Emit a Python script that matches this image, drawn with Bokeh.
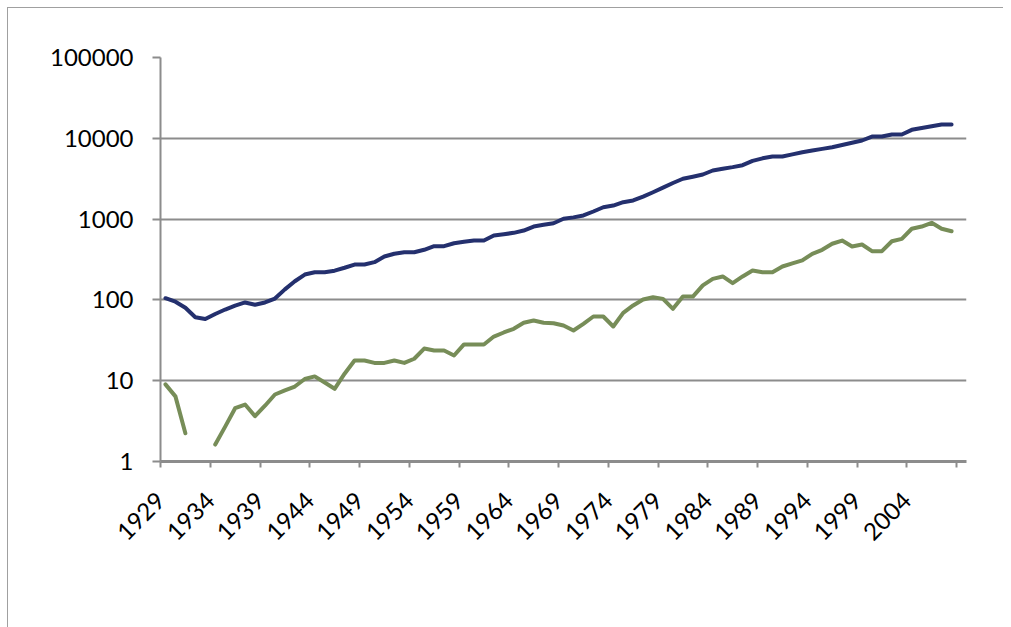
import numpy as np
import math
from bokeh.plotting import figure
from bokeh.models import (FixedTicker, NumeralTickFormatter, Range1d, Legend,
                          LegendItem, ColumnDataSource)
from bokeh.embed import file_html
from bokeh.resources import INLINE

# ---------------- data ----------------
years = list(range(1929, 2009))

gross_domestic_income = [
    105, 95, 80, 61, 58, 67, 76, 85, 93, 87,            # 1929-1938
    93, 104, 135, 170, 206, 220, 220, 230, 250, 274,     # 1939-1948
    274, 293, 344, 372, 389, 389, 417, 462, 462, 503,    # 1949-1958
    525, 543, 543, 627, 650, 676, 722, 809, 850, 889,    # 1959-1968
    1009, 1050, 1109, 1242, 1403, 1472, 1618, 1700, 1900, 2150,  # 1969-1978
    2450, 2800, 3155, 3350, 3565, 3993, 4200, 4400, 4650, 5250,  # 1979-1988
    5650, 5954, 5954, 6330, 6730, 7050, 7400, 7760, 8250, 8800,  # 1989-1998
    9390, 10520, 10520, 11140, 11140, 12730, 13400, 14100, 14820, 14820,  # 1999-2008
]

after_tax_profits = [
    9.0, 6.4, 2.24, None, None, 1.62, 2.7, 4.57, 5.07, 3.64,   # 1929-1938
    4.9, 6.75, 7.6, 8.47, 10.5, 11.3, 9.5, 7.94, 12.2, 17.8,   # 1939-1948
    17.8, 16.6, 16.6, 17.8, 16.6, 18.7, 25.0, 23.6, 23.6, 20.5,  # 1949-1958
    28.1, 28.1, 28.1, 35.2, 39.5, 43.9, 52.1, 55.6, 52.1, 51.5,  # 1959-1968
    48.2, 41.8, 50.6, 62.3, 62.3, 46.9, 69.2, 85.3, 101, 108,    # 1969-1978
    103, 77.6, 110, 110, 151, 182, 195, 161, 195, 231,           # 1979-1988
    220, 220, 259, 283, 308, 372, 417, 495, 543, 458,            # 1989-1998
    485, 401, 401, 532, 570, 759, 809, 899, 759, 708,            # 1999-2008
]

series_names = ["Gross domestic income", "After tax profits"]
x_label_years = list(range(1929, 2005, 5))       # 1929 ... 2004
y_tick_values = [1, 10, 100, 1000, 10000, 100000]

# category axis: 81 slots (1929..2009); tick marks every 5 slots at slot edges,
# each label sits at the edge just left of its year
x_label_ticks = [yr - 0.5 for yr in x_label_years]
x_end_ticks = [2008.5]
x_overrides = {yr - 0.5: str(yr) for yr in x_label_years}

# ---------------- styling ----------------
FONT = "Lato"
GRID = "#8c8c8c"
BLUE = "#24306e"
GREEN = "#778d58"

src = ColumnDataSource(dict(
    year=years,
    gdi=np.array(gross_domestic_income, dtype=float),
    atp=np.array([np.nan if v is None else v for v in after_tax_profits], dtype=float),
))

p = figure(frame_width=806, frame_height=404, y_axis_type="log",
           x_range=Range1d(1928.5, 2009.5), y_range=Range1d(1, 100000),
           output_backend="svg", toolbar_location=None,
           min_border_left=152, min_border_right=37,
           min_border_top=49, min_border_bottom=0)
p.outline_line_color = None
p.background_fill_color = "white"
p.border_fill_color = "white"
p.styles = {"margin-left": "7px", "margin-top": "7px",
            "border-top": "1px solid #a0a0a0", "border-left": "1px solid #a0a0a0"}

# y axis
yt = FixedTicker(ticks=y_tick_values, minor_ticks=[])
p.yaxis.ticker = yt
p.ygrid.ticker = yt
p.yaxis.formatter = NumeralTickFormatter(format="0")
p.yaxis.axis_line_color = GRID
p.yaxis.axis_line_width = 2
p.yaxis.major_tick_line_color = GRID
p.yaxis.major_tick_line_width = 2
p.yaxis.major_tick_out = 8
p.yaxis.major_tick_in = 0
p.yaxis.minor_tick_line_color = None
p.yaxis.major_label_standoff = 19
p.yaxis.major_label_text_font = FONT
p.yaxis.major_label_text_font_size = "24px"
p.yaxis.major_label_text_color = "#000000"

p.ygrid.grid_line_color = GRID
p.ygrid.grid_line_width = 2
p.xgrid.grid_line_color = None

# x axis
xt = FixedTicker(ticks=x_label_ticks, minor_ticks=x_end_ticks)
p.xaxis.ticker = xt
p.xaxis.major_label_overrides = x_overrides
p.xaxis.axis_line_color = GRID
p.xaxis.axis_line_width = 3
p.xaxis.major_tick_line_color = GRID
p.xaxis.major_tick_line_width = 2
p.xaxis.major_tick_out = 6
p.xaxis.major_tick_in = 0
p.xaxis.minor_tick_line_color = GRID
p.xaxis.minor_tick_line_width = 2
p.xaxis.minor_tick_out = 6
p.xaxis.minor_tick_in = 0
p.xaxis.major_label_orientation = math.pi / 4
p.xaxis.major_label_standoff = 29
p.xaxis.major_label_text_font = FONT
p.xaxis.major_label_text_font_size = "24px"
p.xaxis.major_label_text_color = "#000000"

r1 = p.line("year", "gdi", source=src, line_color=BLUE, line_width=4,
            line_join="round", line_cap="round")
r2 = p.line("year", "atp", source=src, line_color=GREEN, line_width=4,
            line_join="round", line_cap="round")

lg = Legend(items=[LegendItem(label=series_names[0], renderers=[r1]),
                   LegendItem(label=series_names[1], renderers=[r2])],
            location="top", orientation="horizontal")
lg.title = " "
lg.title_text_font_size = "1px"
lg.title_standoff = 14
lg.border_line_color = None
lg.background_fill_alpha = 0
lg.padding = 0
lg.margin = 0
lg.spacing = 148
lg.glyph_width = 54
lg.glyph_height = 28
lg.label_height = 28
lg.label_width = 234
lg.label_standoff = 6
lg.label_text_font = FONT
lg.label_text_font_size = "24px"
lg.label_text_color = "#000000"
p.add_layout(lg, "below")

open("out.html", "w").write(file_html(p, INLINE))
